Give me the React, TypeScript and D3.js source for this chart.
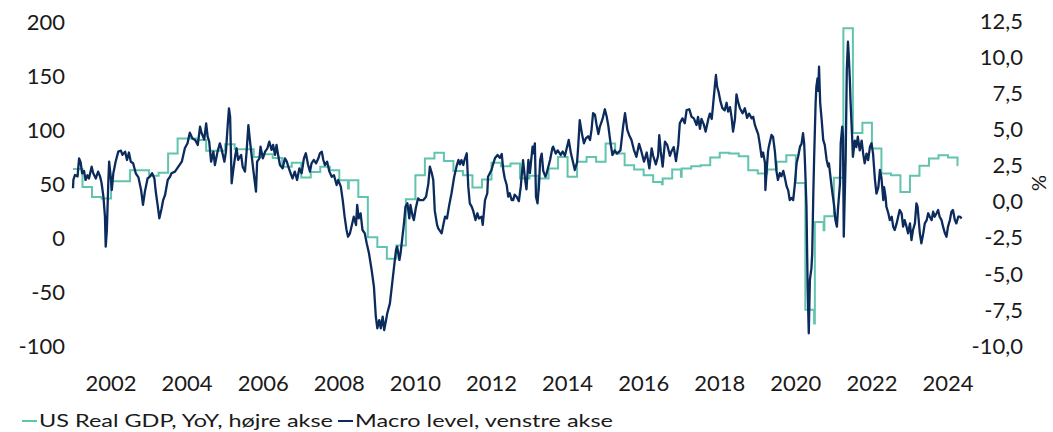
import * as d3 from 'd3'

// US real GDP YoY (%), one value per quarter from 2001Q1, held until next quarter
const gdpStartYear = 2001
const gdpYoY = [
  2.25, 1.0, 0.3, 0.2,
  1.4, 1.4, 2.16, 2.16,
  1.77, 1.98, 3.32, 4.36,
  4.36, 4.24, 3.5, 3.5,
  3.96, 3.6, 3.6, 3.08,
  3.27, 3.01, 2.39, 2.67,
  1.65, 2.04, 2.39, 2.16,
  1.47, 1.47, 0.31, -2.48,
  -3.15, -3.96, -3.05, 0.15,
  1.81, 2.97, 3.36, 2.8,
  2.11, 1.81, 0.96, 1.52,
  2.67, 2.44, 2.62, 1.59,
  1.77, 1.59, 2.28, 3.08,
  1.7, 2.74, 3.08, 2.74,
  4.0, 3.32, 2.51, 2.21,
  1.81, 1.35, 1.59, 2.21,
  2.28, 2.44, 2.51, 3.04,
  3.36, 3.32, 3.13, 2.16,
  1.93, 2.21, 2.74, 3.2,
  1.28, -7.49, -1.42, -1.02,
  1.63, 11.97, 4.74, 5.44,
  3.66, 1.93, 1.81, 0.66,
  1.77, 2.46, 2.97, 3.2,
  3.04, 2.51,
]
// short-lived first estimates seen right before a quarter switch: [quarter end, value]
const gdpBlips: [number, number][] = [
  [2008.25, 0.9],
  [2013.25, 0.78],
  [2016.5, 1.19],
  [2017.0, 1.7],
  [2020.5, -8.44],
  [2020.75, -2.0],
]
const gdpEndYear = 2024.27

// Macro level index, [decimal year, level]
const macroLevel: [number, number][] = [
  [2001.0, 45.9], [2001.01, 53.6], [2001.05, 58.2], [2001.12, 56.9], [2001.16, 73.6], [2001.2, 70],
  [2001.24, 59.8], [2001.29, 62], [2001.33, 53.6], [2001.38, 58], [2001.42, 55], [2001.49, 65.9],
  [2001.53, 60], [2001.6, 55], [2001.66, 61.3], [2001.71, 57], [2001.75, 51], [2001.8, 38.1],
  [2001.84, 19.6], [2001.86, -8.1], [2001.89, 7.3], [2001.93, 53.6], [2001.95, 70.5], [2001.99, 57],
  [2002.02, 44.3], [2002.06, 59.8], [2002.12, 70.5], [2002.19, 79.8], [2002.26, 80.7], [2002.3, 76.8],
  [2002.37, 79.8], [2002.42, 72.1], [2002.47, 79], [2002.52, 70.5], [2002.58, 69], [2002.65, 59.8],
  [2002.72, 56], [2002.79, 44.3], [2002.84, 30.5], [2002.89, 42.8], [2002.96, 55], [2003.02, 56.6],
  [2003.08, 59.8], [2003.14, 55], [2003.17, 44.3], [2003.23, 28.9], [2003.27, 18.1], [2003.33, 27.4],
  [2003.37, 35], [2003.42, 39.7], [2003.49, 53.6], [2003.55, 56.6], [2003.59, 59.8], [2003.68, 61.3],
  [2003.77, 65.9], [2003.86, 70.5], [2003.94, 82.9], [2004.01, 87.5], [2004.07, 97.3], [2004.14, 92],
  [2004.21, 90.5], [2004.28, 86], [2004.34, 102.9], [2004.38, 97], [2004.45, 91], [2004.5, 106],
  [2004.54, 93.7], [2004.58, 89], [2004.63, 70.5], [2004.69, 79.8], [2004.73, 67.4], [2004.8, 79.8],
  [2004.86, 87.5], [2004.91, 81.4], [2004.98, 70.5], [2005.02, 79.8], [2005.07, 106], [2005.1, 119.9],
  [2005.13, 112], [2005.15, 81.4], [2005.17, 50.5], [2005.21, 62], [2005.26, 75], [2005.3, 82.9],
  [2005.34, 72.1], [2005.42, 76.8], [2005.46, 65.9], [2005.52, 61.3], [2005.56, 78.3], [2005.61, 104.4],
  [2005.65, 90.5], [2005.7, 75], [2005.74, 62.8], [2005.81, 42.8], [2005.84, 70.5], [2005.9, 73.6],
  [2005.93, 84.4], [2005.99, 73.6], [2006.05, 79.8], [2006.11, 82.9], [2006.16, 89], [2006.22, 81.4],
  [2006.26, 86], [2006.31, 76.8], [2006.35, 86], [2006.4, 75], [2006.44, 67.4], [2006.51, 64.3],
  [2006.57, 73.6], [2006.62, 70.5], [2006.66, 65.9], [2006.72, 59.8], [2006.77, 55], [2006.83, 61.3],
  [2006.89, 53.6], [2006.95, 64.3], [2007.01, 59.8], [2007.07, 73.6], [2007.12, 78.3], [2007.18, 67.4],
  [2007.23, 61.3], [2007.27, 69], [2007.33, 72.1], [2007.39, 69], [2007.45, 73.6], [2007.49, 78.3],
  [2007.54, 79.8], [2007.58, 72.1], [2007.62, 67.4], [2007.68, 70.5], [2007.74, 61.3], [2007.8, 56.6],
  [2007.86, 58], [2007.93, 48.9], [2007.97, 53.6], [2008.04, 47.4], [2008.09, 35], [2008.14, 19.6],
  [2008.19, 7.3], [2008.23, 1.1], [2008.28, 4.2], [2008.34, 13.4], [2008.38, 19.6], [2008.44, 11.9],
  [2008.47, 30.5], [2008.51, 18.1], [2008.56, 22.7], [2008.61, 7.3], [2008.67, 4.2], [2008.72, -5],
  [2008.78, -14.2], [2008.85, -29.7], [2008.91, -45.1], [2008.96, -72.9], [2009.0, -83.6], [2009.05, -76],
  [2009.09, -83.6], [2009.14, -72.9], [2009.18, -85.2], [2009.23, -76], [2009.26, -69.9], [2009.33, -60.6],
  [2009.38, -45.1], [2009.44, -26.6], [2009.49, -11.2], [2009.52, -8.1], [2009.58, -20.4], [2009.61, -14.2],
  [2009.66, 1.1], [2009.7, 13.4], [2009.74, 28.9], [2009.79, 32], [2009.84, 18.1], [2009.87, 30.5],
  [2009.93, 19.6], [2009.96, 16.5], [2010.01, 27.4], [2010.07, 36.6], [2010.12, 35], [2010.21, 35],
  [2010.28, 38.1], [2010.34, 50], [2010.38, 66], [2010.43, 60], [2010.47, 53.6], [2010.51, 25],
  [2010.57, 12], [2010.6, 8.9], [2010.69, 4.2], [2010.75, 15], [2010.78, 19.6], [2010.83, 18],
  [2010.89, 30.5], [2010.95, 41.3], [2011.02, 56.6], [2011.08, 65.9], [2011.13, 72.1], [2011.17, 68],
  [2011.21, 72], [2011.26, 67.4], [2011.29, 72], [2011.35, 78.3], [2011.39, 47.4], [2011.43, 32],
  [2011.48, 28.9], [2011.52, 25], [2011.58, 16.5], [2011.63, 22.8], [2011.67, 18], [2011.74, 19.6],
  [2011.77, 12], [2011.83, 35], [2011.89, 41.3], [2011.91, 56.6], [2012.0, 62.8], [2012.05, 69],
  [2012.09, 73.6], [2012.16, 76.7], [2012.22, 74], [2012.27, 77.6], [2012.31, 62.8], [2012.35, 55],
  [2012.4, 48.9], [2012.44, 38.1], [2012.48, 41.3], [2012.53, 35], [2012.57, 35], [2012.61, 40],
  [2012.66, 38], [2012.72, 34], [2012.77, 47.4], [2012.83, 72], [2012.88, 55], [2012.92, 45],
  [2012.97, 72.1], [2013.01, 60], [2013.08, 84.4], [2013.1, 78.3], [2013.14, 87.5], [2013.17, 38.1],
  [2013.21, 32], [2013.25, 50], [2013.28, 72.1], [2013.32, 78], [2013.36, 62], [2013.42, 56.6],
  [2013.45, 59.8], [2013.54, 72.1], [2013.6, 82.9], [2013.62, 84.4], [2013.69, 78], [2013.74, 81],
  [2013.82, 76.7], [2013.87, 80], [2013.93, 76], [2014.03, 90.6], [2014.09, 78], [2014.15, 69],
  [2014.19, 62.8], [2014.25, 70], [2014.28, 85], [2014.32, 109], [2014.38, 96], [2014.43, 87.5],
  [2014.48, 92], [2014.54, 94], [2014.59, 90.6], [2014.63, 100], [2014.67, 115.3], [2014.72, 114],
  [2014.76, 105], [2014.81, 96], [2014.85, 103], [2014.92, 110], [2014.98, 119], [2015.03, 112],
  [2015.07, 104], [2015.13, 87.5], [2015.18, 76.7], [2015.24, 81], [2015.3, 78], [2015.39, 81],
  [2015.46, 102.9], [2015.51, 115.3], [2015.57, 100], [2015.62, 95], [2015.68, 90.6], [2015.74, 82],
  [2015.81, 75], [2015.88, 87], [2015.94, 80], [2016.01, 70.5], [2016.08, 79], [2016.15, 64.4],
  [2016.21, 82.9], [2016.25, 76], [2016.32, 68], [2016.38, 76], [2016.41, 95], [2016.45, 80],
  [2016.5, 66], [2016.56, 89], [2016.62, 86], [2016.69, 76], [2016.73, 80], [2016.79, 84],
  [2016.85, 71.1], [2016.91, 86], [2016.95, 106], [2017.02, 110.6], [2017.08, 106], [2017.13, 118.3],
  [2017.2, 119], [2017.26, 112], [2017.32, 110.6], [2017.39, 104.4], [2017.43, 112], [2017.48, 101],
  [2017.52, 110], [2017.58, 105], [2017.63, 98.3], [2017.7, 110], [2017.74, 115], [2017.79, 110],
  [2017.83, 125], [2017.87, 140], [2017.9, 150.7], [2017.93, 140], [2017.97, 135], [2018.02, 126],
  [2018.07, 120], [2018.13, 118], [2018.18, 125], [2018.22, 116.8], [2018.27, 121], [2018.31, 112],
  [2018.35, 98.3], [2018.4, 110], [2018.44, 132.8], [2018.48, 126], [2018.53, 120], [2018.6, 115.3],
  [2018.66, 120], [2018.72, 111], [2018.77, 115], [2018.84, 110.6], [2018.88, 112], [2018.92, 105],
  [2018.97, 99.8], [2019.01, 96], [2019.05, 87.5], [2019.1, 75], [2019.14, 79], [2019.19, 69],
  [2019.2, 44.3], [2019.24, 66], [2019.27, 80], [2019.29, 84.4], [2019.36, 95.2], [2019.4, 93.6],
  [2019.45, 80], [2019.49, 62], [2019.53, 53.6], [2019.58, 60], [2019.62, 57], [2019.67, 62],
  [2019.71, 56], [2019.76, 47.4], [2019.8, 44], [2019.84, 35], [2019.89, 37], [2019.93, 35],
  [2019.97, 48], [2020.02, 69], [2020.06, 75], [2020.11, 84.4], [2020.15, 87], [2020.19, 96.8],
  [2020.22, 87], [2020.24, 70], [2020.28, 28.9], [2020.31, -45.1], [2020.34, -88.2], [2020.37, -38.9],
  [2020.41, -28], [2020.43, -15], [2020.46, 41.3], [2020.48, 72.1], [2020.52, 124.5], [2020.54, 139.9],
  [2020.57, 147.6], [2020.59, 136], [2020.61, 158.4], [2020.64, 125], [2020.68, 109], [2020.72, 90.6],
  [2020.76, 86], [2020.81, 72.1], [2020.85, 66], [2020.87, 69], [2020.92, 53.6], [2020.96, 42],
  [2021.01, 28.9], [2021.04, 16.5], [2021.08, 10.4], [2021.11, 28], [2021.16, 50], [2021.18, 87.5],
  [2021.22, 102.9], [2021.24, 94], [2021.26, 1.1], [2021.29, 45], [2021.31, 74], [2021.34, 155.3],
  [2021.37, 181.5], [2021.39, 170], [2021.42, 146], [2021.44, 124.5], [2021.48, 93.6], [2021.5, 75],
  [2021.55, 90], [2021.59, 84], [2021.63, 93.6], [2021.68, 81], [2021.73, 90], [2021.77, 78],
  [2021.81, 69], [2021.86, 78], [2021.9, 72], [2021.95, 84.4], [2021.99, 87.5], [2022.03, 78],
  [2022.08, 53.6], [2022.12, 41], [2022.17, 47], [2022.21, 62.8], [2022.25, 56], [2022.3, 35],
  [2022.32, 47], [2022.36, 38], [2022.38, 28.9], [2022.43, 23], [2022.47, 16.5], [2022.52, 19.6],
  [2022.56, 10.4], [2022.6, 7.3], [2022.65, 13.4], [2022.69, 19.6], [2022.73, 25.8], [2022.78, 22.7],
  [2022.82, 10.4], [2022.86, 16.5], [2022.91, 10.4], [2022.95, 4.2], [2023.0, 13.4], [2023.04, -2],
  [2023.08, 7.3], [2023.13, 13.4], [2023.17, 32], [2023.2, 29], [2023.23, 16.5], [2023.26, 4.2],
  [2023.3, -5], [2023.35, 4.2], [2023.39, 13.5], [2023.44, 16.5], [2023.48, 22.8], [2023.52, 19.6],
  [2023.57, 16.5], [2023.61, 24.2], [2023.65, 19.6], [2023.7, 22.8], [2023.74, 25.8], [2023.78, 19.6],
  [2023.83, 16.5], [2023.87, 10.4], [2023.92, 4.2], [2023.96, 1.1], [2024.0, 10.4], [2024.05, 16.5],
  [2024.09, 24.2], [2024.13, 25.8], [2024.18, 16.5], [2024.22, 13.4], [2024.27, 19.6], [2024.31, 19.6],
  [2024.36, 18],
]

const leftTicks = [-100, -50, 0, 50, 100, 150, 200]
const rightTicks = [-10, -7.5, -5, -2.5, 0, 2.5, 5, 7.5, 10, 12.5]
const yearTicks = [2002, 2004, 2006, 2008, 2010, 2012, 2014, 2016, 2018, 2020, 2022, 2024]

const TEAL = '#62c3ae'
const NAVY = '#0b2b5c'
const TEXT = '#1a1a1a'
const FONT = 'Lato, "Noto Sans", sans-serif'

const legendItems = [
  { label: 'US Real GDP, YoY, højre akse', color: TEAL, x: 22, width: 294 },
  { label: 'Macro level, venstre akse', color: NAVY, x: 338, width: 258 },
]

export default function App() {
  const W = 1053
  const H = 432

  const x = d3.scaleLinear().domain([2001, 2024]).range([73, 948])
  const yL = d3.scaleLinear().domain([-100, 200]).range([346, 21.7])
  const yR = d3.scaleLinear().domain([-10, 12.5]).range([346, 20.7])

  const gdpPoints: [number, number][] = []
  gdpYoY.forEach((v, i) => {
    const start = gdpStartYear + i / 4
    gdpPoints.push([start, v])
    const blip = gdpBlips.find((b) => Math.abs(b[0] - (start + 0.25)) < 1e-6)
    if (blip) gdpPoints.push([blip[0] - 0.02, blip[1]])
  })
  gdpPoints.push([gdpEndYear, gdpYoY[gdpYoY.length - 1]])

  const gdpLine = d3.line<[number, number]>().x((d) => x(d[0])).y((d) => yR(d[1])).curve(d3.curveStepAfter)
  const macroLine = d3.line<[number, number]>().x((d) => x(d[0])).y((d) => yL(d[1]))

  const fmtRight = (v: number) => v.toFixed(1).replace('.', ',')

  return (
    <svg width={W} height={H} style={{ position: 'absolute', left: 0, top: 0, background: '#fff' }} fontFamily={FONT}>
      <path d={gdpLine(gdpPoints) ?? ''} fill="none" stroke={TEAL} strokeWidth={2} />
      <path d={macroLine(macroLevel) ?? ''} fill="none" stroke={NAVY} strokeWidth={2.3} strokeLinejoin="round" />

      {leftTicks.map((t) => (
        <text key={`l${t}`} x={65} y={yL(t)} dy="0.36em" textAnchor="end" fontSize={22} fill={TEXT}>{t}</text>
      ))}
      {rightTicks.map((t) => (
        <text key={`r${t}`} x={1023} y={yR(t)} dy="0.36em" textAnchor="end" fontSize={22} fill={TEXT}>{fmtRight(t)}</text>
      ))}
      <text x={1039} y={183} textAnchor="middle" dy="0.36em" fontSize={20} fill={TEXT} transform="rotate(90 1039 183)">%</text>

      {yearTicks.map((t) => (
        <text key={`x${t}`} x={x(t)} y={383} dy="0.36em" textAnchor="middle" fontSize={22} fill={TEXT}>{t}</text>
      ))}

      {legendItems.map((item) => (
        <g key={item.label}>
          <line x1={item.x} x2={item.x + 15} y1={421} y2={421} stroke={item.color} strokeWidth={2} />
          <text x={item.x + 17} y={421} dy="0.36em" fontSize={18} fill={TEXT} textLength={item.width} lengthAdjust="spacingAndGlyphs">{item.label}</text>
        </g>
      ))}
    </svg>
  )
}
